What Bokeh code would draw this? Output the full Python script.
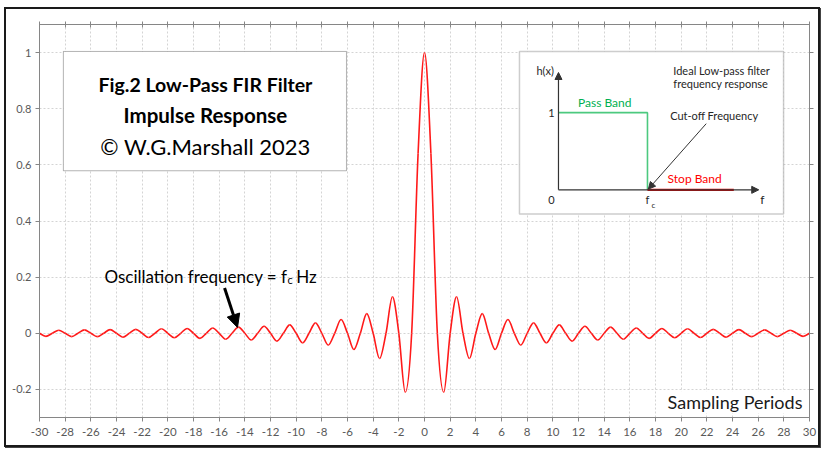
import numpy as np
from bokeh.plotting import figure
from bokeh.models import (Range1d, FixedTicker, LinearAxis, NumeralTickFormatter,
                          CustomJSTickFormatter, BoxAnnotation, Label, Arrow, NormalHead)
from bokeh.embed import file_html
from bokeh.resources import INLINE

# ---------------- data ----------------
x_tick_values = list(range(-30, 31, 2))
y_tick_values = [-0.2, 0.0, 0.2, 0.4, 0.6, 0.8, 1.0]

# impulse response read off the picture, sampled every half sampling period
# (value at x = 0, 0.5, 1.0, ..., 30); the curve is symmetric about x = 0
sample_step = 0.5
h_right = [1.0, 0.64, 0.0, -0.21, 0.0, 0.13, 0.0, -0.09, 0.0, 0.07, 0.0, -0.058,
           0.0, 0.049, 0.0, -0.042, 0.0, 0.037, 0.0, -0.034, 0.0, 0.030, 0.0, -0.028,
           0.0, 0.025, 0.0, -0.024, 0.0, 0.022, 0.0, -0.021, 0.0, 0.019, 0.0, -0.018,
           0.0, 0.017, 0.0, -0.016, 0.0, 0.016, 0.0, -0.015, 0.0, 0.014, 0.0, -0.014,
           0.0, 0.013, 0.0, -0.012, 0.0, 0.012, 0.0, -0.012, 0.0, 0.011, 0.0, -0.011, 0.0]

# inset: ideal low-pass filter response (in normalised units, f_c = 1)
cutoff_f = 1.0
pass_gain = 1.0
stop_band_end = 1.97
inset_axis_x_end = 2.25
inset_axis_y_end = 1.52

# ---------------- curve ----------------
h_all = h_right[:0:-1] + h_right
n = len(h_right) - 1
xs = [sample_step * i for i in range(-n, n + 1)]
ys = h_all
X = np.array(xs); Y = np.array(ys)
Xp = np.concatenate([[X[0]], X, [X[-1]]])
Yp = np.concatenate([[Y[0]], Y, [Y[-1]]])
x0 = X[:-1]; y0 = Y[:-1]; x1 = X[1:]; y1 = Y[1:]
cx0 = x0 + (Xp[2:-1] - Xp[0:-3]) / 6.0
cy0 = y0 + (Yp[2:-1] - Yp[0:-3]) / 6.0
cx1 = x1 - (Xp[3:] - Xp[1:-2]) / 6.0
cy1 = y1 - (Yp[3:] - Yp[1:-2]) / 6.0

FONT = "Lato"
AXIS_COL = "#868686"
LABEL_COL = "#595959"

p = figure(width=816, height=440, x_range=Range1d(-30, 30), y_range=Range1d(-0.3, 1.1),
           output_backend="svg", toolbar_location=None,
           min_border_left=33, min_border_right=13, min_border_top=15, min_border_bottom=32)
p.outline_line_color = AXIS_COL
p.background_fill_color = "white"
p.border_fill_color = "white"
p.styles = {"border": "2px solid #1a1a1a", "box-shadow": "1px 1px 0 #444",
            "margin-left": "4px", "margin-top": "7px"}

xt = FixedTicker(ticks=x_tick_values)
yt = FixedTicker(ticks=y_tick_values)

for ax in (p.xaxis[0], p.yaxis[0]):
    ax.axis_line_color = AXIS_COL
    ax.major_tick_line_color = AXIS_COL
    ax.minor_tick_line_color = None
    ax.major_tick_in = 0
    ax.major_tick_out = 4
    ax.major_label_text_font = FONT
    ax.major_label_text_font_size = "11.5px"
    ax.major_label_text_color = LABEL_COL
    ax.major_label_standoff = 6
p.yaxis[0].major_label_text_font_size = "11px"
p.yaxis[0].major_label_standoff = 4
p.xaxis[0].ticker = xt
p.yaxis[0].ticker = yt
p.xaxis[0].formatter = NumeralTickFormatter(format="0")
p.yaxis[0].formatter = NumeralTickFormatter(format="0.[0]")

blank = CustomJSTickFormatter(code="return ''")
top_ax = LinearAxis(ticker=xt, formatter=blank, axis_line_color=AXIS_COL,
                    major_tick_line_color=AXIS_COL, minor_tick_line_color=None,
                    major_tick_in=3, major_tick_out=3, major_label_standoff=0)
right_ax = LinearAxis(ticker=yt, formatter=blank, axis_line_color=AXIS_COL,
                      major_tick_line_color=AXIS_COL, minor_tick_line_color=None,
                      major_tick_in=0, major_tick_out=4, major_label_standoff=0)
p.add_layout(top_ax, "above")
p.add_layout(right_ax, "right")

p.xgrid.ticker = xt
p.ygrid.ticker = yt
for g in (p.xgrid[0], p.ygrid[0]):
    g.grid_line_color = "#d4d4d4"
    g.grid_line_dash = "2 2"
    g.grid_line_width = 1

# ---- title box ----
title_box = BoxAnnotation(left=-28.14, right=-6.08, bottom=0.579, top=1.004,
                          fill_color="white", fill_alpha=1.0, line_color="black",
                          line_width=1, level="underlay")
p.add_layout(title_box)

# ---- inset box & coordinate system ----
inset_box = BoxAnnotation(left=7.40, right=27.98, bottom=0.425, top=1.004,
                          fill_color="white", fill_alpha=1.0, line_color="#595959",
                          line_width=1.5, level="underlay")
p.add_layout(inset_box)

inset_origin_x, inset_origin_y = 10.44, 0.511   # in main data units
inset_unit_x, inset_unit_y = 6.935, 0.275
p.extra_x_ranges = {"inset": Range1d((-30 - inset_origin_x) / inset_unit_x,
                                     (30 - inset_origin_x) / inset_unit_x)}
p.extra_y_ranges = {"inset": Range1d((-0.3 - inset_origin_y) / inset_unit_y,
                                     (1.1 - inset_origin_y) / inset_unit_y)}

# ---- main curve ----
p.bezier(x0=x0, y0=y0, x1=x1, y1=y1, cx0=cx0, cy0=cy0, cx1=cx1, cy1=cy1,
         line_color="#ff1a1a", line_width=1.6)

# ---- inset drawing ----
p.line([0, cutoff_f, cutoff_f], [pass_gain, pass_gain, 0], x_range_name="inset",
       y_range_name="inset", line_color="#4cc97f", line_width=1.6)
p.line([cutoff_f, stop_band_end], [0, 0], x_range_name="inset", y_range_name="inset",
       line_color="#e00000", line_width=2.2)
for (xa, ya, xb, yb) in [(0, 0, 0, inset_axis_y_end), (0, 0, inset_axis_x_end, 0)]:
    p.add_layout(Arrow(x_start=xa, y_start=ya, x_end=xb, y_end=yb,
                       x_range_name="inset", y_range_name="inset",
                       line_color="#333333", line_width=1.2,
                       end=NormalHead(size=7, fill_color="#333333", line_color="#333333")))
p.add_layout(Arrow(x_start=1.66, y_start=0.857, x_end=cutoff_f + 0.01, y_end=0.01,
                   x_range_name="inset", y_range_name="inset",
                   line_color="#333333", line_width=1,
                   end=NormalHead(size=7, fill_color="#333333", line_color="#333333")))

def ilabel(x, y, text, size="11px", color="#262626", align="center", base="middle", style="normal"):
    p.add_layout(Label(x=x, y=y, text=text, x_range_name="inset", y_range_name="inset",
                       text_font=FONT, text_font_size=size, text_color=color,
                       text_align=align, text_baseline=base, text_font_style=style))

ilabel(-0.15, 1.545, "h(x)")
ilabel(-0.08, pass_gain, "1")
ilabel(-0.08, -0.13, "0")
ilabel(cutoff_f, -0.13, "f")
ilabel(cutoff_f + 0.045, -0.19, "c", size="8px", align="left")
ilabel(2.29, -0.13, "f", size="12px")
ilabel(0.52, 1.13, "Pass Band", size="12px", color="#00b050")
ilabel(1.53, 0.143, "Stop Band", size="12px", color="#ff0000")
ilabel(1.75, 0.96, "Cut-off Frequency")
ilabel(1.29, 1.545, "Ideal Low-pass filter", align="left")
ilabel(1.29, 1.377, "frequency response", align="left")

# ---- main labels ----
def mlabel(x, y, text, size, style="normal", align="center", base="alphabetic", color="black", bg=None):
    p.add_layout(Label(x=x, y=y, text=text, text_font=FONT, text_font_size=size,
                       text_font_style=style, text_align=align, text_baseline=base,
                       text_color=color, background_fill_color=bg))

mlabel(-17.07, 0.886, "Fig.2 Low-Pass FIR Filter", "19.5px", style="bold")
mlabel(-17.07, 0.779, "Impulse Response", "20.5px", style="bold")
mlabel(-17.07, 0.664, "© W.G.Marshall 2023", "22px")

mlabel(-10.68, 0.2036, "Oscillation frequency = f", "17px", align="right")
mlabel(-10.68, 0.193, "c", "11px", align="left")
mlabel(-10.0, 0.2036, "Hz", "17px", align="left")

mlabel(29.45, -0.246, "Sampling Periods", "18px", align="right", base="middle", color="#1a1a1a", bg="white")

p.add_layout(Arrow(x_start=-15.58, y_start=0.161, x_end=-14.57, y_end=0.021,
                   line_color="black", line_width=3,
                   end=NormalHead(size=13, fill_color="black", line_color="black")))

open("out.html", "w").write(file_html(p, INLINE))
